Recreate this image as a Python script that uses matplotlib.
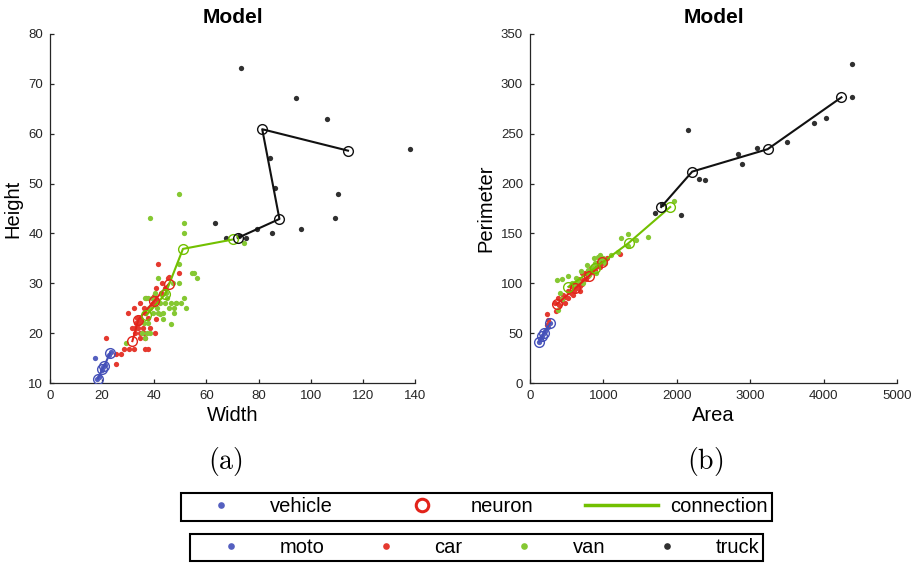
import matplotlib
matplotlib.use("Agg")
import matplotlib.pyplot as plt
from matplotlib.lines import Line2D

plt.rcParams['font.family'] = ['Liberation Sans', 'DejaVu Sans']
plt.rcParams['mathtext.fontset'] = 'cm'

# ---- data (a): width vs height ----
moto_w = [17.3, 18.2, 18.8, 19.8, 20.4, 21.2, 22.6, 23.3]
moto_h = [15.1, 10.8, 11.3, 12.6, 13.2, 13.6, 15.6, 16.2]
car_w = [41.6, 49.5, 45.7, 45.4, 40.5, 42.5, 44.0, 34.5, 36.2, 40.9, 39.5, 38.5, 32.4,
         30.1, 40.5, 33.2, 34.5, 36.3, 37.5, 31.3, 32.6, 33.9, 35.5, 38.4, 40.3, 32.6,
         34.5, 36.4, 34.5, 21.4, 28.5, 30.4, 32.4, 36.4, 37.7, 25.2, 27.2, 25.2, 34.0,
         35.0, 36.0, 33.0, 40.0, 43.0, 37.0]
car_h = [33.9, 32.1, 31.3, 31.0, 29.0, 28.0, 29.0, 26.0, 25.0, 26.7, 26.0, 25.0, 25.0,
         24.0, 22.8, 23.0, 23.0, 24.0, 23.0, 21.0, 21.0, 21.0, 21.0, 21.0, 20.1, 20.0,
         20.0, 19.0, 19.0, 19.0, 16.8, 16.8, 16.8, 16.8, 16.8, 15.8, 15.8, 13.9, 22.0,
         22.5, 20.0, 22.0, 27.5, 30.0, 27.0]
van_w = [49.5, 38.2, 51.5, 51.5, 74.5, 49.5, 54.4, 55.4, 56.3, 41.6, 47.3, 49.5, 40.3,
         37.7, 39.0, 44.5, 44.1, 46.4, 48.3, 50.3, 51.5, 38.0, 41.0, 39.5, 41.5, 43.5,
         47.6, 52.2, 47.6, 43.5, 46.4, 35.2, 37.1, 38.4, 36.5, 29.2, 36.3, 45.0, 42.0,
         45.6, 42.3, 36.0, 37.4, 48.4]
van_h = [48.0, 43.1, 42.0, 40.0, 38.0, 33.9, 32.1, 32.1, 31.0, 31.1, 30.0, 30.0, 28.0,
         27.0, 27.0, 28.0, 26.0, 26.0, 26.0, 26.0, 27.0, 25.0, 25.0, 24.0, 24.0, 24.0,
         25.0, 25.0, 24.0, 22.8, 21.8, 20.1, 20.1, 20.1, 19.0, 18.0, 27.0, 27.0, 26.0,
         25.0, 23.9, 22.0, 22.0, 26.0]
truck_w = [73.3, 94.4, 106.1, 138.1, 84.4, 86.4, 110.4, 109.4, 63.4, 96.3, 79.3, 85.3,
           67.4, 75.3, 72.5]
truck_h = [73.2, 67.2, 63.0, 57.0, 55.1, 49.1, 48.0, 43.1, 42.0, 40.9, 40.9, 40.0,
           39.1, 39.1, 39.5]

# neurons (a), in connection order
n_moto_w = [18.4, 20.1, 20.8, 23.0]
n_moto_h = [10.9, 12.8, 13.4, 16.0]
n_car_w = [31.6, 33.9, 40.0, 45.6]
n_car_h = [18.4, 22.7, 26.5, 29.9]
n_van_w = [37.0, 44.2, 51.0, 70.3]
n_van_h = [23.6, 27.8, 36.9, 38.8]
n_truck_w = [72.0, 88.0, 81.4, 114.3]
n_truck_h = [39.1, 42.9, 60.9, 56.6]

# ---- data (b): area vs perimeter ----
moto_a = [127, 150, 170, 191, 210, 240, 273]
moto_p = [41.5, 45, 47, 50.5, 52, 56, 59.9]
car_a = [227, 250, 227, 341, 387, 432, 477, 523, 560, 600, 640, 680, 705, 720, 760, 790,
         820, 850, 880, 910, 940, 980, 1020, 1046, 705, 1228, 400, 450, 520, 580, 620,
         660, 750, 830, 900, 960, 350, 480, 560, 680]
car_p = [68.9, 63.2, 58.2, 79.9, 85, 83.2, 86.5, 84.9, 90, 92, 95, 97, 99, 103, 104, 107,
         110, 112, 113, 117, 118, 120, 122, 125, 109.9, 128.9, 78, 88, 92, 88, 100,
         104, 110, 115, 120, 116, 72, 80, 97, 92]
van_a = [1964, 1605, 1332, 1241, 1446, 1337, 1196, 932, 1000, 373, 441, 523, 409, 432,
         386, 568, 659, 727, 796, 841, 887, 950, 1020, 870, 780, 700, 620, 600, 900, 960,
         810, 1100]
van_p = [182.5, 146.5, 149.9, 145.2, 143.2, 137.2, 131.5, 126.5, 124.9, 103.2, 103.9,
         107.2, 90.5, 83.9, 73.2, 100, 101, 100, 113, 116.5, 120, 122, 120, 125, 118,
         112, 105, 98, 110, 128, 108, 128]
truck_a = [4389, 4389, 2151, 4029, 3865, 3506, 3088, 2833, 2888, 2296, 2378, 2055, 1705, 1800]
truck_p = [319.5, 286.5, 254.2, 265.5, 260.5, 241.9, 235.5, 229.2, 219.9, 204.2, 203.2,
           168.2, 170.9, 180]

n_moto_a = [127, 170, 191, 273]
n_moto_p = [41.5, 47, 50.5, 59.9]
n_car_a = [364, 614, 800, 978]
n_car_p = [79, 95, 107, 121]
n_van_a = [523, 880, 1345, 1910]
n_van_p = [96.5, 115, 140.5, 176.5]
n_truck_a = [1787, 2210, 3238, 4243]
n_truck_p = [176.5, 212, 234.5, 286.5]

dot_colors = {'moto': '#5560c0', 'car': '#e5392f', 'van': '#85c832', 'truck': '#303030'}
net_colors = {'moto': '#4450b8', 'car': '#e2231a', 'van': '#72c000', 'truck': '#111111'}

fig = plt.figure(figsize=(9.18, 5.64), dpi=100)
ax1 = fig.add_axes([50 / 918, 181 / 564, 365 / 918, 349 / 564])
ax2 = fig.add_axes([530 / 918, 181 / 564, 367 / 918, 349 / 564])

panels = [
    (ax1, [(moto_w, moto_h), (car_w, car_h), (van_w, van_h), (truck_w, truck_h)],
     [(n_moto_w, n_moto_h), (n_car_w, n_car_h), (n_van_w, n_van_h), (n_truck_w, n_truck_h)]),
    (ax2, [(moto_a, moto_p), (car_a, car_p), (van_a, van_p), (truck_a, truck_p)],
     [(n_moto_a, n_moto_p), (n_car_a, n_car_p), (n_van_a, n_van_p), (n_truck_a, n_truck_p)]),
]
classes = ['moto', 'car', 'van', 'truck']

for ax, dots, nets in panels:
    for cls, (xs, ys) in zip(classes, dots):
        ax.plot(xs, ys, 'o', color=dot_colors[cls], ms=3.8, mew=0, zorder=2)
    for cls, (xs, ys) in zip(classes, nets):
        ax.plot(xs, ys, '-', color=net_colors[cls], lw=1.5, zorder=3)
        ax.plot(xs, ys, 'o', mfc='none', mec=net_colors[cls], ms=7, mew=1.0, zorder=4)
    for s in ['top', 'right']:
        ax.spines[s].set_visible(False)
    for s in ['left', 'bottom']:
        ax.spines[s].set_color('#262626')
        ax.spines[s].set_linewidth(0.9)
    ax.tick_params(direction='in', length=3, width=0.9, labelsize=9.5, colors='#262626', pad=5)
    ax.set_title('Model', fontsize=15, fontweight='bold', pad=8)

ax1.set_xlim(0, 140)
ax1.set_ylim(10, 80)
ax1.set_xticks(range(0, 141, 20))
ax1.set_yticks(range(10, 81, 10))
ax1.set_xlabel('Width', fontsize=14.5, labelpad=3)
ax1.set_ylabel('Height', fontsize=14.5, labelpad=4)

ax2.set_xlim(0, 5000)
ax2.set_ylim(0, 350)
ax2.set_xticks(range(0, 5001, 1000))
ax2.set_yticks(range(0, 351, 50))
ax2.set_xlabel('Area', fontsize=14.5, labelpad=3)
ax2.set_ylabel('Perimeter', fontsize=14.5, labelpad=4)

fig.text(225 / 918, 1 - 461 / 564, r'$\mathrm{(a)}$', fontsize=20, ha='center', va='center')
fig.text(705 / 918, 1 - 461 / 564, r'$\mathrm{(b)}$', fontsize=20, ha='center', va='center')

# legends
h1 = [Line2D([], [], ls='none', marker='o', color=dot_colors['moto'], ms=4.8, mew=0),
      Line2D([], [], ls='none', marker='o', mfc='none', mec=net_colors['car'], ms=9, mew=2.2),
      Line2D([], [], color=net_colors['van'], lw=2.5)]
leg1 = fig.legend(h1, ['vehicle', 'neuron', 'connection'], ncol=3, loc='center',
                  bbox_to_anchor=(476.5 / 918, 1 - 507 / 564), fontsize=14.5,
                  handlelength=3.6, handletextpad=0.62, columnspacing=2.6,
                  borderpad=0.2, fancybox=False, framealpha=1)
leg1.get_frame().set_edgecolor('black')
leg1.get_frame().set_linewidth(1.5)

h2 = [Line2D([], [], ls='none', marker='o', color=dot_colors[c], ms=4.8, mew=0) for c in classes]
leg2 = fig.legend(h2, classes, ncol=4, loc='center',
                  bbox_to_anchor=(476.7 / 918, 1 - 547.7 / 564), fontsize=14.5,
                  handlelength=3.6, handletextpad=0.62, columnspacing=1.25,
                  borderpad=0.2, fancybox=False, framealpha=1)
leg2.get_frame().set_edgecolor('black')
leg2.get_frame().set_linewidth(1.5)

fig.savefig('out.png', dpi=100)
